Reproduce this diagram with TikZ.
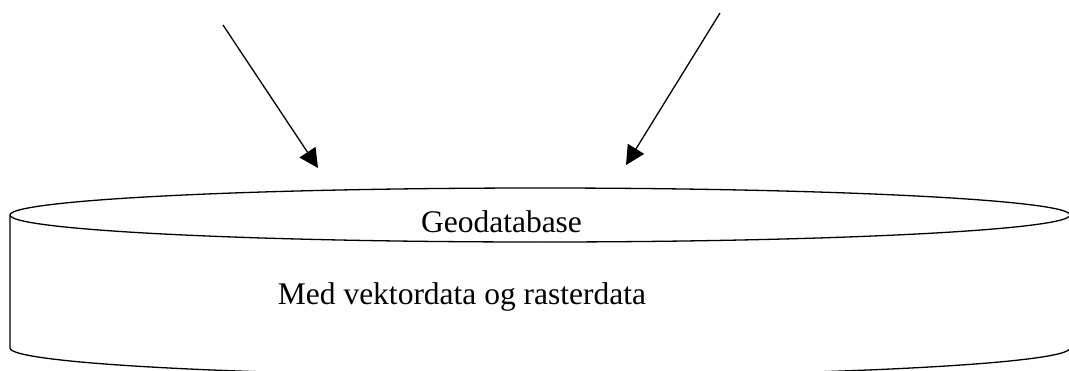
\documentclass[tikz,border=0pt]{standalone}
\usepackage{fontspec}
\setmainfont{Liberation Serif}
\usetikzlibrary{arrows.meta}
\tikzset{
  outline/.style={draw=black, line width=1.3pt},
  feed/.style={draw=black, line width=1.3pt, -{Triangle[length=19pt,width=19pt]}},
  label/.style={inner sep=0pt, anchor=base, font=\fontsize{31.5}{36}\selectfont},
}
\begin{document}
\begin{tikzpicture}[x=1pt, y=-1pt]
  \useasboundingbox (0,0) rectangle (1069,370);
  % cylinder body (y axis points down, so the lower rim runs through 90 degrees)
  \draw[outline] (10,215) -- (10,348) arc[start angle=180, end angle=0, x radius=530, y radius=28] -- (1070,215);
  % lid
  \draw[outline, fill=white] (540,215) ellipse[x radius=530, y radius=27];
  % labels
  \node[label] (title) at (501.5,232) {Geodatabase};
  \node[label] (content) at (462,304) {Med vektordata og rasterdata};
  % incoming data arrows
  \coordinate (srcA) at (223,25);
  \coordinate (tipA) at (318,168);
  \coordinate (srcB) at (720,13);
  \coordinate (tipB) at (626,165);
  \draw[feed] (srcA) -- (tipA);
  \draw[feed] (srcB) -- (tipB);
\end{tikzpicture}
\end{document}
